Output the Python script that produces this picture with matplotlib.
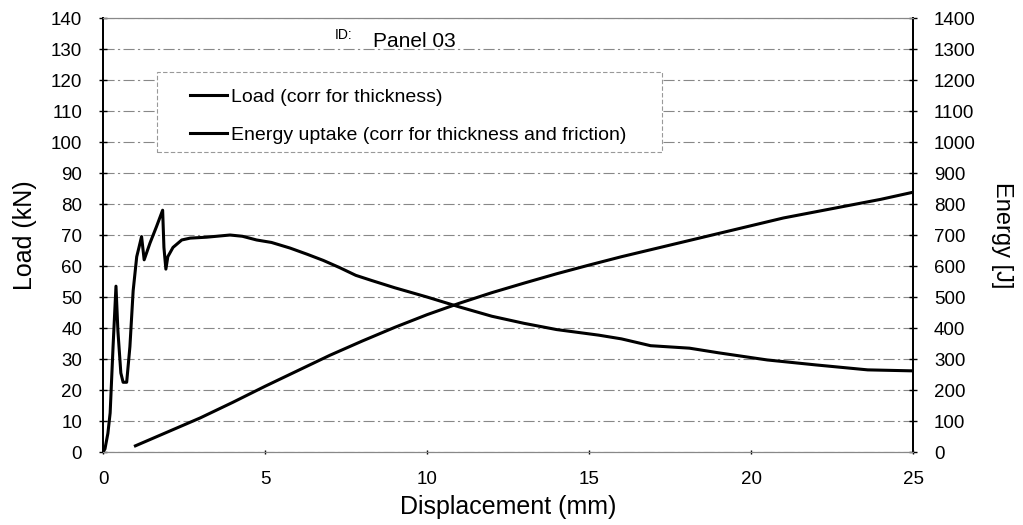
import numpy as np
import matplotlib.pyplot as plt
from matplotlib.patches import Rectangle

plt.rcParams['font.family'] = ['Liberation Sans', 'DejaVu Sans']

# load curve (kN) vs displacement (mm)
load_x = [0.0, 0.06, 0.15, 0.22, 0.31, 0.40, 0.46, 0.55, 0.62, 0.73, 0.83,
          0.93, 1.04, 1.11, 1.19, 1.27, 1.45, 1.65, 1.84, 1.88, 1.94, 2.0,
          2.16, 2.43, 2.69, 3.2, 3.92, 4.3, 4.74, 5.2, 5.77, 6.3, 6.8, 7.3,
          7.8, 8.3, 9.0, 10.0, 11.0, 12.0, 13.0, 14.0, 15.3, 16.0, 16.9,
          18.1, 19.0, 20.5, 22.0, 23.6, 24.9, 25.0]
load_y = [0.0, 1.0, 6.0, 12.6, 34.0, 53.5, 39.0, 25.5, 22.5, 22.5, 34.0,
          52.0, 63.0, 66.0, 69.5, 62.0, 67.4, 72.7, 78.0, 66.0, 59.0, 63.0,
          66.0, 68.4, 69.0, 69.3, 70.0, 69.6, 68.4, 67.6, 65.8, 63.8, 61.8, 59.5,
          57.0, 55.3, 53.0, 50.0, 46.8, 43.8, 41.5, 39.5, 37.7, 36.5, 34.3,
          33.5, 32.0, 29.7, 28.1, 26.5, 26.2, 26.2]

# energy uptake (J) vs displacement (mm)
energy_x = [1.0, 2, 3, 4, 5, 6, 7, 8, 9, 10, 11, 12, 13, 14, 15, 16, 17,
            18, 19, 20, 21, 22, 23, 24, 25]
energy_y = [20, 65, 110, 160, 212, 262, 312, 358, 402, 443, 480, 514, 545,
            575, 603, 630, 655, 680, 705, 730, 755, 775, 795, 815, 838]

fig = plt.figure(figsize=(10.23, 5.25), dpi=100)
ax = fig.add_axes([0.1007, 0.139, 0.7918, 0.8267])
ax2 = ax.twinx()

ax.plot(load_x, load_y, color='black', lw=2.2, label='Load (corr for thickness)')
ax2.plot(energy_x, energy_y, color='black', lw=2.2,
         label='Energy uptake (corr for thickness and friction)')

ax.set_xlim(0, 25)
ax.set_ylim(0, 140)
ax2.set_ylim(0, 1400)
ax.set_xticks(range(0, 26, 5))
ax.set_yticks(range(0, 141, 10))
ax2.set_yticks(range(0, 1401, 100))

ax.grid(axis='y', color='#888888', lw=0.8, linestyle=(0, (10, 3, 2, 3)))
ax.set_axisbelow(True)

for a in (ax, ax2):
    a.tick_params(labelsize=13.5, direction='inout', length=6, width=1, pad=12)
    a.spines['top'].set_color('#888888')
    a.spines['bottom'].set_color('#888888')
    a.spines['left'].set_linewidth(1.3)
    a.spines['right'].set_linewidth(1.3)
ax.tick_params(axis='x', length=3, pad=12, colors='black')

ax.set_xlabel('Displacement (mm)', fontsize=18, labelpad=5)
ax.set_ylabel('Load (kN)', fontsize=18, labelpad=10)
ax2.set_ylabel('Energy [J]', fontsize=17, rotation=270, labelpad=27)

ax.text(0.286, 0.952, 'ID:', transform=ax.transAxes, fontsize=10, va='baseline')
ax.text(0.333, 0.933, 'Panel 03', transform=ax.transAxes, fontsize=15,
        va='baseline')

# dashed legend frame
ax2.add_patch(Rectangle((0.0667, 0.691), 0.6233, 0.185, transform=ax2.transAxes,
                        facecolor='white', edgecolor='#999999', lw=0.8,
                        linestyle=(0, (4, 2)), zorder=3))

h1, l1 = ax.get_legend_handles_labels()
h2, l2 = ax2.get_legend_handles_labels()
leg = ax2.legend(h1 + h2, l1 + l2, loc='upper left', bbox_to_anchor=(0.1074, 0.838),
                 fontsize=14, handlelength=1.9, handletextpad=0.2,
                 borderpad=0, labelspacing=1.05, frameon=False,
                 borderaxespad=0)
leg.set_zorder(4)

fig.savefig('out.png', dpi=100)
